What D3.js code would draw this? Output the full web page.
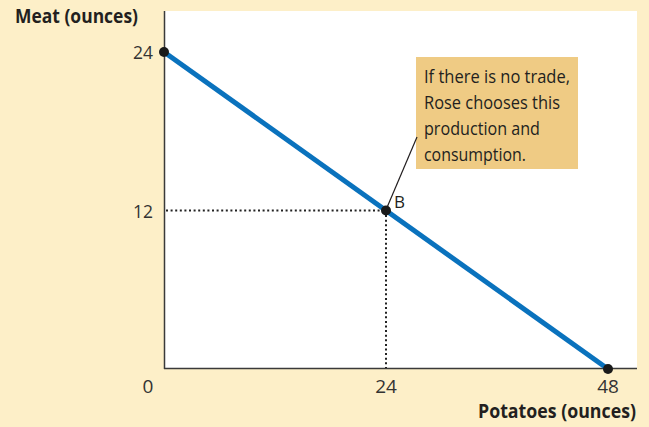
<!DOCTYPE html>
<html><head><meta charset="utf-8">
<script src="https://cdn.jsdelivr.net/npm/d3@7"></script>
<style>
html,body{margin:0;padding:0;background:#fdefc8;}
svg{display:block;}
text{font-family:"Open Sans",sans-serif;}
</style></head>
<body>
<svg id="chart" width="649" height="427"></svg>
<script>
// Data
const ppfPotatoes = [0, 48];
const ppfMeat = [24, 0];
const pointB = {potatoes: 24, meat: 12, label: "B"};
const xTicks = [0, 24, 48];
const yTicks = [12, 24];
const xTitle = "Potatoes (ounces)";
const yTitle = "Meat (ounces)";
const noteLines = ["If there is no trade,", "Rose chooses this", "production and", "consumption."];
const noteWidths = [146, 136, 116, 102];

const svg = d3.select("#chart");
const x = d3.scaleLinear().domain([0, 48]).range([164, 608]);
const y = d3.scaleLinear().domain([0, 24]).range([369, 52]);

// plot background
svg.append("rect").attr("x", 164).attr("y", 11).attr("width", 637 - 164).attr("height", 369 - 11).attr("fill", "#ffffff");

// axes lines
svg.append("line").attr("x1", 164.5).attr("x2", 164.5).attr("y1", 11).attr("y2", 369).attr("stroke", "#3a3a3a").attr("stroke-width", 1.5);
svg.append("line").attr("x1", 164).attr("x2", 637).attr("y1", 368.5).attr("y2", 368.5).attr("stroke", "#3a3a3a").attr("stroke-width", 1.5);

// dotted guides
svg.append("line").attr("x1", x(0) + 2).attr("x2", x(pointB.potatoes)).attr("y1", y(pointB.meat)).attr("y2", y(pointB.meat))
  .attr("stroke", "#222").attr("stroke-width", 2).attr("stroke-dasharray", "2,2.6");
svg.append("line").attr("x1", x(pointB.potatoes)).attr("x2", x(pointB.potatoes)).attr("y1", y(pointB.meat)).attr("y2", y(0) - 1)
  .attr("stroke", "#222").attr("stroke-width", 2).attr("stroke-dasharray", "2,2.6");

// PPF line
const pts = ppfPotatoes.map((p, i) => [p, ppfMeat[i]]);
svg.append("path").datum(pts)
  .attr("d", d3.line().x(d => x(d[0])).y(d => y(d[1])))
  .attr("stroke", "#0a72bd").attr("stroke-width", 5).attr("fill", "none");

// annotation box
svg.append("rect").attr("x", 416).attr("y", 57).attr("width", 162).attr("height", 112).attr("fill", "#efcb84");
noteLines.forEach((l, i) => {
  svg.append("text").attr("x", 424).attr("y", 83 + i * 26).attr("font-size", 19).attr("fill", "#231f20")
    .attr("textLength", noteWidths[i]).attr("lengthAdjust", "spacingAndGlyphs").text(l);
});
// leader line
svg.append("line").attr("x1", x(pointB.potatoes) + 1).attr("y1", y(pointB.meat) - 3).attr("x2", 417).attr("y2", 137)
  .attr("stroke", "#231f20").attr("stroke-width", 1.2);

// dots
svg.selectAll("circle.end").data(pts.concat([[pointB.potatoes, pointB.meat]])).enter().append("circle")
  .attr("cx", d => x(d[0])).attr("cy", d => y(d[1])).attr("r", 5).attr("fill", "#1a1a1a");

svg.append("text").attr("x", 394).attr("y", 208).attr("font-size", 16).attr("fill", "#231f20")
  .attr("textLength", 11).attr("lengthAdjust", "spacingAndGlyphs").text(pointB.label);

// ticks labels
svg.selectAll("text.yt").data(yTicks).enter().append("text")
  .attr("x", 153).attr("y", d => y(d) + 7).attr("text-anchor", "end").attr("font-size", 19).attr("fill", "#333")
  .attr("textLength", 20).attr("lengthAdjust", "spacingAndGlyphs").text(d => d);
svg.selectAll("text.xt").data(xTicks).enter().append("text")
  .attr("x", d => d === 0 ? 148 : x(d)).attr("y", 393).attr("text-anchor", "middle").attr("font-size", 19).attr("fill", "#333")
  .text(d => d);

// titles
svg.append("text").attr("x", 15).attr("y", 23).attr("font-size", 19).attr("font-weight", "bold").attr("fill", "#231f20")
  .attr("textLength", 123).attr("lengthAdjust", "spacingAndGlyphs").text(yTitle);
svg.append("text").attr("x", 478).attr("y", 418).attr("font-size", 19).attr("font-weight", "bold").attr("fill", "#231f20")
  .attr("textLength", 158).attr("lengthAdjust", "spacingAndGlyphs").text(xTitle);
</script>
</body></html>
